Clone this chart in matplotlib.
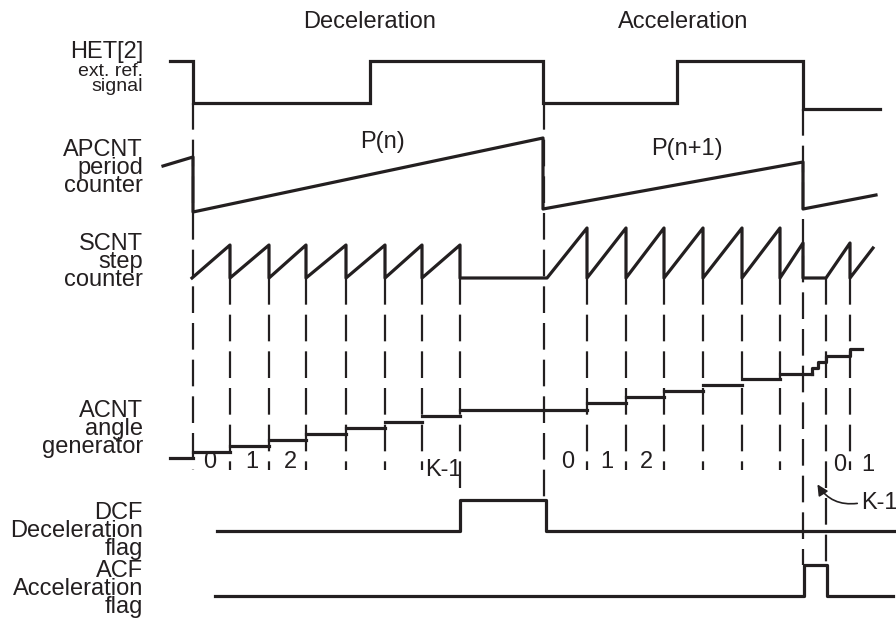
import matplotlib.pyplot as plt

# timing diagram, drawn in pixel-like units (x = time, y grows downwards)
# HET[2] reference signal: edge times and levels between them
het_edges = [193, 370, 543, 677, 803]
het_levels = [61, 103, 61, 103, 61, 109]
het_span = [170, 880]

# APCNT period counter ramps (start x, start y, end x, end y)
apcnt_ramps = [(163, 166, 193, 157), (193, 212, 543, 138), (543, 209, 803, 162), (803, 209, 876, 195)]
period_labels = ["P(n)", "P(n+1)"]
period_label_pos = [(383, 153), (687, 160)]

# SCNT step counter: sub-step boundaries
dec_steps = [192, 230, 269, 306, 346, 385, 422, 460]
acc_steps = [547, 587, 626, 664, 703, 742, 780]
scnt_base = 278
dec_peak = 245
acc_peak = 228
acc_last_peak = 243
tail_steps = [826, 850]
tail_end = (873, 248)

# ACNT angle generator levels per step
acnt_pre = (170, 193, 458)
acnt_dec_x = [193, 230, 269, 306, 346, 385, 422, 460, 587]
acnt_dec_y = [452, 446, 440, 434, 428, 422, 416, 410]
acnt_acc_x = [587, 626, 664, 703, 742, 780, 812]
acnt_acc_y = [403, 397, 391, 385, 379, 374]
acnt_stair_x = [812, 818, 826, 850, 862]
acnt_stair_y = [368, 362, 356, 349]

# flags
dcf_x = [217, 460, 546, 895]
dcf_levels = [531, 500, 531]
acf_x = [215, 804, 827, 893]
acf_levels = [596, 565, 596]

# dashed guide lines: x, top, bottom
guides_x = [193, 230, 269, 306, 346, 385, 422, 460, 544, 587, 626, 664, 703, 742, 780, 803, 826, 850]
guides_top = [103, 278, 278, 278, 278, 278, 278, 278, 103, 278, 278, 278, 278, 278, 278, 109, 278, 278]
guides_bot = [470, 470, 470, 470, 470, 470, 470, 498, 500, 470, 470, 470, 470, 470, 470, 565, 565, 470]

step_labels = ["0", "1", "2", "K-1", "0", "1", "2", "0", "1"]
step_label_x = [210, 252, 290, 443, 568, 607, 646, 840, 868]
step_label_y = [462, 462, 462, 470, 462, 462, 462, 465, 465]

signal_names = ["APCNT\nperiod\ncounter", "SCNT\nstep\ncounter", "ACNT\nangle\ngenerator",
                "DCF\nDeceleration\nflag", "ACF\nAcceleration\nflag"]
name_y = [168, 262, 429, 531, 589]

LW = 2.3
K = "#231f20"
plt.rcParams['font.family'] = ['Liberation Sans', 'DejaVu Sans']

fig = plt.figure(figsize=(8.96, 6.39), dpi=100)
ax = fig.add_axes([0, 0, 1, 1])
ax.set_xlim(0, 896)
ax.set_ylim(639, 0)
ax.axis('off')


def square(edges, levels, start, end):
    xs, ys = [start], [levels[0]]
    for e, a, b in zip(edges, levels[:-1], levels[1:]):
        xs += [e, e]
        ys += [a, b]
    xs.append(end)
    ys.append(levels[-1])
    return xs, ys


xs, ys = square(het_edges, het_levels, het_span[0], het_span[1])
ax.plot(xs, ys, color=K, lw=LW, solid_joinstyle='miter')

# APCNT
xs, ys = [], []
for x0, y0, x1, y1 in apcnt_ramps:
    xs += [x0, x1]
    ys += [y0, y1]
ax.plot(xs, ys, color=K, lw=LW)
for (x, y), s in zip(period_label_pos, period_labels):
    ax.text(x, y, s, fontsize=17, ha='center', va='bottom', color=K)

# SCNT sawtooth
xs, ys = [dec_steps[0]], [scnt_base]
for x in dec_steps[1:]:
    xs += [x, x]
    ys += [dec_peak, scnt_base]
xs.append(acc_steps[0])
ys.append(scnt_base)
for x in acc_steps[1:]:
    xs += [x, x]
    ys += [acc_peak, scnt_base]
xs += [het_edges[-1], het_edges[-1], tail_steps[0], tail_steps[1], tail_steps[1], tail_end[0]]
ys += [acc_last_peak, scnt_base, scnt_base, acc_last_peak, scnt_base, tail_end[1]]
ax.plot(xs, ys, color=K, lw=LW)

# ACNT steps
ax.plot([acnt_pre[0], acnt_pre[1]], [acnt_pre[2]] * 2, color=K, lw=LW)
for x0, x1, y in zip(acnt_dec_x[:-1], acnt_dec_x[1:], acnt_dec_y):
    ax.plot([x0, x1], [y, y], color=K, lw=LW)
for x0, x1, y in zip(acnt_acc_x[:-1], acnt_acc_x[1:], acnt_acc_y):
    ax.plot([x0, x1], [y, y], color=K, lw=LW)
xs, ys = [acnt_stair_x[0]], [acnt_acc_y[-1]]
for x0, x1, y in zip(acnt_stair_x[:-1], acnt_stair_x[1:], acnt_stair_y):
    xs += [x0, x1]
    ys += [y, y]
ax.plot(xs, ys, color=K, lw=LW)

# flags
xs, ys = square(dcf_x[1:-1], dcf_levels, dcf_x[0], dcf_x[-1])
ax.plot(xs, ys, color=K, lw=LW)
xs, ys = square(acf_x[1:-1], acf_levels, acf_x[0], acf_x[-1])
ax.plot(xs, ys, color=K, lw=LW)

# dashed guides
for x, t, b in zip(guides_x, guides_top, guides_bot):
    ax.plot([x, x], [t, b], color=K, lw=1.6, dashes=(12, 4.5))

for s, x, y in zip(step_labels, step_label_x, step_label_y):
    ax.text(x, y, s, fontsize=17, ha='center', va='center', color=K)

# K-1 callout
ax.annotate("", xy=(816, 482), xytext=(860, 503),
            arrowprops=dict(arrowstyle='-|>', color=K, lw=1.2, mutation_scale=16,
                            connectionstyle='arc3,rad=-0.35'))
ax.text(861, 503, "K-1", fontsize=17, ha='left', va='center', color=K)

ax.text(370, 22, "Deceleration", fontsize=17, ha='center', va='center', color=K)
ax.text(683, 22, "Acceleration", fontsize=17, ha='center', va='center', color=K)

# signal names on the left
ax.text(143, 52, "HET[2]", fontsize=17, ha='right', va='center', color=K)
ax.text(143, 79, "ext. ref.\nsignal", fontsize=14, ha='right', va='center',
        multialignment='right', linespacing=0.9, color=K)
for s, y in zip(signal_names, name_y):
    ax.text(143, y, s, fontsize=17, ha='right', va='center',
            multialignment='right', linespacing=0.78, color=K)

fig.savefig("out.png", dpi=100)
